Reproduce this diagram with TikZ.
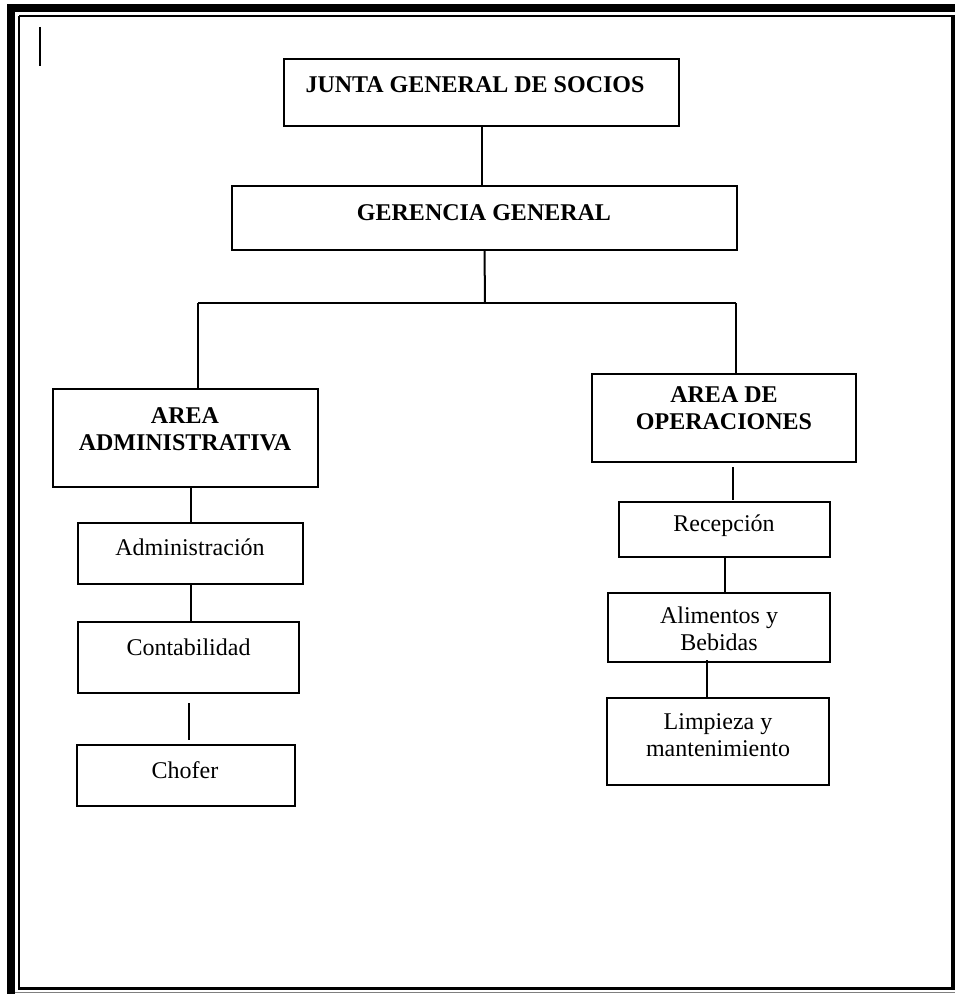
\documentclass[tikz,border=0pt]{standalone}
\usepackage{fontspec}
\setmainfont{Liberation Serif}
\usetikzlibrary{positioning}

\tikzset{
  box/.style={draw, line width=1pt, inner sep=0pt, outer sep=0pt},
  lbl/.style={anchor=base, align=center, inner sep=0pt, font=\fontsize{12}{13.5}\selectfont},
  head/.style={lbl, font=\fontsize{12}{13.5}\selectfont\bfseries},
  link/.style={line width=1pt}
}

\begin{document}
\begin{tikzpicture}[x=0.5pt, y=-0.5pt]

\useasboundingbox (0,0) rectangle (955,994);

% Frame
\fill (7,4) rectangle (955,12);
\fill (7,4) rectangle (15,994);
\draw[line width=1pt] (19,16) -- (19,988);
\draw[line width=1pt] (19,16) -- (951,16);
\fill (18,987) rectangle (955,990);
\fill (951,15) rectangle (955,990);
\draw[line width=0.5pt, gray] (15,992.5) -- (955,992.5);
\draw[line width=0.6pt] (40,27) -- (40,66);

% Nodes
\node[box, minimum width=197.5pt, minimum height=33.5pt] (junta) at (481.5,92.5) {};
\node[box, minimum width=252.5pt, minimum height=32pt] (gerencia) at (484.5,218) {};

\node[box, minimum width=132.5pt, minimum height=49pt] (admin) at (185.5,438) {};
\node[box, minimum width=112.5pt, minimum height=30.5pt] (adm) at (190.5,553.5) {};
\node[box, minimum width=110.5pt, minimum height=35.5pt] (cont) at (188.5,657.5) {};
\node[box, minimum width=109pt, minimum height=30.5pt] (chofer) at (186,775.5) {};

\node[box, minimum width=132pt, minimum height=44pt] (oper) at (724,418) {};
\node[box, minimum width=105.5pt, minimum height=27.5pt] (recep) at (724.5,529.5) {};
\node[box, minimum width=111pt, minimum height=34.5pt] (alim) at (719,627.5) {};
\node[box, minimum width=111pt, minimum height=43.5pt] (limp) at (718,741.5) {};

\coordinate (busL) at (198,303);
\coordinate (busM) at (485,303);
\coordinate (busR) at (736,303);

% Edges
\draw[link] (junta.south) -- (junta.south |- gerencia.north);
\draw[link] (gerencia.south) -- (busM);
\draw[link] (busL) -- (busR);
\draw[link] (busL) -- (busL |- admin.north);
\draw[link] (busR) -- (busR |- oper.north);

\draw[link] (adm.north |- admin.south) -- (adm.north);
\draw[link] (adm.south) -- (adm.south |- cont.north);
\draw[link] ([yshift=-5pt]cont.south) -- ([yshift=2.5pt]chofer.north -| cont.south);

\draw[link] ([xshift=4.5pt,yshift=-2.5pt]oper.south) -- ([xshift=4.5pt,yshift=1pt]recep.north -| oper.south);
\draw[link] (recep.south) -- (recep.south |- alim.north);
\draw[link] ([xshift=-6pt,yshift=1pt]alim.south) -- ([xshift=-6pt]limp.north -| alim.south);

% Labels (two-line labels sit on their last baseline)
\node[head] (junta-t) at (475,93) {JUNTA GENERAL DE SOCIOS};
\node[head] (gerencia-t) at (484,221) {GERENCIA GENERAL};

\node[head] (admin-t) at (185,450) {AREA\\ADMINISTRATIVA};
\node[lbl] (adm-t) at (190,555) {Administración};
\node[lbl] (cont-t) at (188.5,655) {Contabilidad};
\node[lbl] (chofer-t) at (185,778) {Chofer};

\node[head] (oper-t) at (724,429) {AREA DE\\OPERACIONES};
\node[lbl] (recep-t) at (724,531) {Recepción};
\node[lbl] (alim-t) at (719,650) {Alimentos y\\Bebidas};
\node[lbl] (limp-t) at (718,756) {Limpieza y\\mantenimiento};

\end{tikzpicture}
\end{document}
